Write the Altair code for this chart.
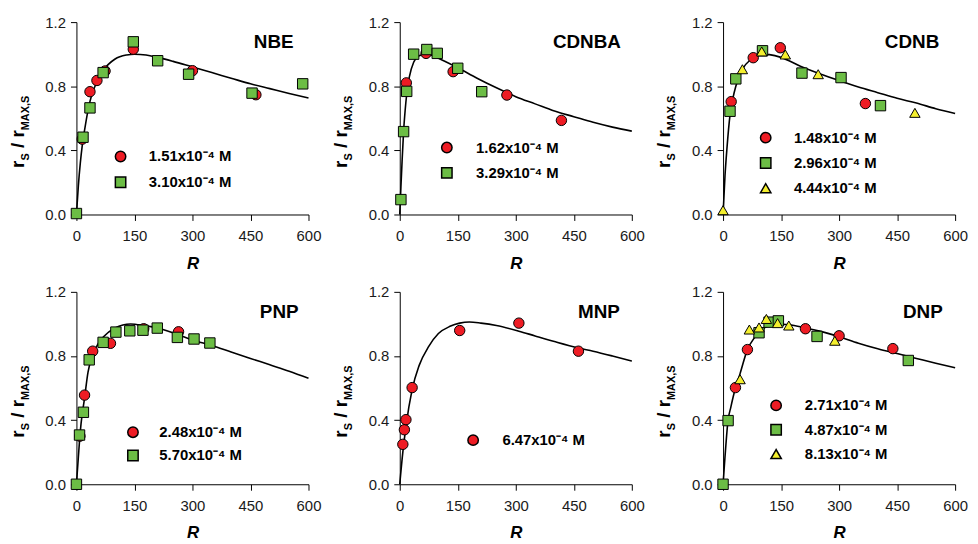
import altair as alt
import pandas as pd

FONT = "Liberation Sans"

# ---------------- data ----------------
PANELS = ["NBE", "CDNBA", "CDNB", "PNP", "MNP", "DNP"]

# fitted curves (R, rS/rMAX,S)
NBE_CURVE_R = [0, 5, 10, 15, 20, 30, 40, 50, 70, 100, 130, 150, 180, 210, 250, 300, 350, 400, 450, 500, 550, 600]
NBE_CURVE_Y = [0, 0.18, 0.32, 0.43, 0.51, 0.65, 0.75, 0.81, 0.90, 0.97, 0.995, 1.0, 0.995, 0.98, 0.955, 0.92, 0.885, 0.85, 0.815, 0.785, 0.755, 0.727]
CDNBA_CURVE_R = [0, 3, 6, 10, 14, 18, 25, 36, 50, 65, 80, 100, 150, 200, 250, 300, 350, 400, 450, 500, 550, 600]
CDNBA_CURVE_Y = [0, 0.17, 0.33, 0.52, 0.65, 0.75, 0.86, 0.95, 0.99, 1.0, 0.995, 0.975, 0.915, 0.85, 0.79, 0.735, 0.69, 0.645, 0.61, 0.575, 0.545, 0.52]
CDNB_CURVE_R = [0, 5, 10, 18, 25, 33, 50, 73, 100, 120, 150, 200, 250, 300, 350, 400, 450, 500, 550, 600]
CDNB_CURVE_Y = [0, 0.24, 0.41, 0.62, 0.72, 0.80, 0.905, 0.97, 1.0, 0.997, 0.98, 0.925, 0.878, 0.835, 0.795, 0.76, 0.725, 0.695, 0.66, 0.63]
PNP_CURVE_R = [0, 5, 10, 15, 20, 30, 40, 50, 70, 100, 140, 175, 210, 260, 300, 350, 400, 450, 500, 550, 600]
PNP_CURVE_Y = [0, 0.17, 0.33, 0.44, 0.52, 0.70, 0.79, 0.85, 0.92, 0.975, 1.0, 0.99, 0.975, 0.935, 0.90, 0.865, 0.825, 0.785, 0.745, 0.705, 0.661]
MNP_CURVE_R = [0, 8, 16, 32, 50, 75, 100, 130, 155, 180, 210, 250, 308, 350, 400, 462, 500, 550, 600]
MNP_CURVE_Y = [0, 0.2, 0.36, 0.59, 0.74, 0.86, 0.94, 0.985, 1.005, 1.012, 1.005, 0.99, 0.955, 0.925, 0.89, 0.85, 0.83, 0.80, 0.768]
DNP_CURVE_R = [0, 5, 13, 20, 32, 44, 63, 80, 93, 110, 140, 170, 213, 250, 300, 350, 400, 450, 500, 550, 600]
DNP_CURVE_Y = [0, 0.17, 0.40, 0.48, 0.60, 0.69, 0.84, 0.91, 0.945, 0.98, 1.0, 0.995, 0.975, 0.955, 0.92, 0.88, 0.845, 0.815, 0.785, 0.755, 0.727]

# measured points
NBE_LABELS = ["1.51x10⁻⁴ M", "3.10x10⁻⁴ M"]
NBE_R = [[15, 35, 53, 74, 147, 300, 464], [0, 17, 35, 69, 147, 210, 290, 454, 585]]
NBE_Y = [[0.47, 0.766, 0.836, 0.895, 1.031, 0.897, 0.747], [0.006, 0.482, 0.665, 0.885, 1.077, 0.959, 0.875, 0.757, 0.815]]

CDNBA_LABELS = ["1.62x10⁻⁴ M", "3.29x10⁻⁴ M"]
CDNBA_R = [[17, 68, 138, 277, 418], [3, 10, 18, 36, 70, 97, 150, 212]]
CDNBA_Y = [[0.821, 1.005, 0.891, 0.745, 0.587], [0.093, 0.517, 0.768, 1.0, 1.029, 1.005, 0.912, 0.766]]

CDNB_LABELS = ["1.48x10⁻⁴ M", "2.96x10⁻⁴ M", "4.44x10⁻⁴ M"]
CDNB_R = [[21, 78, 148, 368], [18, 33, 102, 204, 305, 407], [0, 50, 100, 161, 246, 496]]
CDNB_Y = [[0.704, 0.978, 1.04, 0.692], [0.644, 0.846, 1.021, 0.882, 0.854, 0.679], [0.027, 0.906, 1.017, 0.998, 0.875, 0.634]]

PNP_LABELS = ["2.48x10⁻⁴ M", "5.70x10⁻⁴ M"]
PNP_R = [[9, 21, 42, 88, 174, 264], [0, 8, 18, 33, 69, 102, 138, 172, 209, 261, 304, 345]]
PNP_Y = [[0.30, 0.556, 0.83, 0.879, 0.970, 0.951], [0, 0.307, 0.449, 0.776, 0.885, 0.949, 0.957, 0.961, 0.974, 0.916, 0.906, 0.881]]

MNP_LABELS = ["6.47x10⁻⁴ M"]
MNP_R = [[8, 12, 16, 32, 155, 308, 462]]
MNP_Y = [[0.249, 0.34, 0.403, 0.603, 0.959, 1.005, 0.83]]

DNP_LABELS = ["2.71x10⁻⁴ M", "4.87x10⁻⁴ M", "8.13x10⁻⁴ M"]
DNP_R = [[32, 63, 213, 300, 439], [0, 13, 93, 119, 143, 243, 479], [44, 68, 93, 112, 141, 170, 289]]
DNP_Y = [[0.603, 0.84, 0.970, 0.926, 0.846], [0, 0.397, 0.945, 1.011, 1.019, 0.922, 0.772], [0.655, 0.965, 0.978, 1.031, 1.005, 0.99, 0.895]]

X_TICKS = [0, 150, 300, 450, 600]
Y_TICKS = [0.0, 0.4, 0.8, 1.2]

# ---------------- styling / layout ----------------
FILLS = ["#ee1c24", "#6cbd45", "#f4ef2e"]
SHAPES = ["circle", "square", "triangle-up"]
W, H = 234, 194

# legend placement per panel: legendX, legendY, rowPadding, labelOffset
LEGEND_POS = {
    "NBE": (37, 128, 9, 21),
    "CDNBA": (40, 119, 8.5, 22),
    "CDNB": (35.5, 109, 8.5, 21),
    "PNP": (49.5, 134, 6.5, 19),
    "MNP": (66.5, 142, 8, 22),
    "DNP": (46, 107, 7.5, 21.5),
}
NAME_POS = {"NBE": 219, "CDNBA": 223, "CDNB": 218, "PNP": 224, "MNP": 222, "DNP": 221.5}

CURVES = {
    "NBE": (NBE_CURVE_R, NBE_CURVE_Y), "CDNBA": (CDNBA_CURVE_R, CDNBA_CURVE_Y),
    "CDNB": (CDNB_CURVE_R, CDNB_CURVE_Y), "PNP": (PNP_CURVE_R, PNP_CURVE_Y),
    "MNP": (MNP_CURVE_R, MNP_CURVE_Y), "DNP": (DNP_CURVE_R, DNP_CURVE_Y),
}
SERIES = {
    "NBE": (NBE_LABELS, NBE_R, NBE_Y), "CDNBA": (CDNBA_LABELS, CDNBA_R, CDNBA_Y),
    "CDNB": (CDNB_LABELS, CDNB_R, CDNB_Y), "PNP": (PNP_LABELS, PNP_R, PNP_Y),
    "MNP": (MNP_LABELS, MNP_R, MNP_Y), "DNP": (DNP_LABELS, DNP_R, DNP_Y),
}

# y-axis title pieces: (text, y position along axis, is_subscript)
YTITLE = [("r", 147.0, False), ("S", 139.6, True), ("/ r", 127.0, False), ("MAX,S", 109.0, True)]
YT_X_MAIN, YT_X_SUB = -53, -48


def make_panel(name):
    cr, cy = CURVES[name]
    labels, rs, ys = SERIES[name]
    rows = []
    for lab, rr, yy in zip(labels, rs, ys):
        for r, v in zip(rr, yy):
            rows.append({"R": r, "v": v, "series": lab})
    pts = pd.DataFrame(rows)
    n = len(labels)

    x_enc = alt.X("R:Q", scale=alt.Scale(domain=[0, 600], nice=False, zero=False),
                  axis=alt.Axis(values=X_TICKS, title="R", labelFlush=False))
    y_enc = alt.Y("v:Q", scale=alt.Scale(domain=[0, 1.2], nice=False),
                  axis=alt.Axis(values=Y_TICKS, format=".1f", title=None, labelFlush=False))

    line = alt.Chart(pd.DataFrame({"R": cr, "v": cy})).mark_line(
        color="black", strokeWidth=1.6, interpolate="monotone").encode(x=x_enc, y=y_enc)

    lx, ly, rp, lo = LEGEND_POS[name]
    leg = alt.Legend(title=None, orient="none", legendX=lx, legendY=ly, direction="vertical",
                     labelFont=FONT, labelFontSize=15, labelFontWeight="bold", labelColor="black",
                     labelOffset=lo, rowPadding=rp, symbolSize=110,
                     padding=0, labelLimit=300)
    points = alt.Chart(pts).mark_point(filled=True, size=110, stroke="black", strokeWidth=1, opacity=1).encode(
        x="R:Q", y="v:Q",
        fill=alt.Fill("series:N", scale=alt.Scale(domain=labels, range=FILLS[:n]), legend=leg),
        shape=alt.Shape("series:N", scale=alt.Scale(domain=labels, range=SHAPES[:n]), legend=leg),
    )

    title = alt.Chart(pd.DataFrame({"t": [name]})).mark_text(
        font=FONT, fontSize=19, fontWeight="bold", align="right", baseline="alphabetic", color="black"
    ).encode(text="t:N", x=alt.value(NAME_POS[name]), y=alt.value(26))

    layers = [line, points, title]
    for txt, ypos, sub in YTITLE:
        layers.append(alt.Chart(pd.DataFrame({"t": [txt]})).mark_text(
            font=FONT, fontSize=11 if sub else 19, fontWeight="bold", angle=270,
            align="left", baseline="alphabetic", color="black"
        ).encode(text="t:N", x=alt.value(YT_X_SUB if sub else YT_X_MAIN), y=alt.value(ypos)))

    return alt.layer(*layers).properties(width=W, height=H)


chart = alt.concat(*[make_panel(p) for p in PANELS], columns=3,
                   spacing={"row": 78, "column": 92}, bounds="flush")
chart = chart.resolve_scale(fill="independent", shape="independent").resolve_legend(
    fill="independent", shape="independent")
chart = chart.properties(
    autosize=alt.AutoSizeParams(type="none"),
    padding={"left": 69, "top": 12, "right": 901, "bottom": 522},
).configure_view(stroke=None).configure_axis(
    domainColor="black", domainWidth=1, tickColor="black", tickWidth=1, tickSize=6,
    labelFont=FONT, labelFontSize=15, labelColor="#1a1a1a", grid=False,
    titleFont=FONT, titleFontSize=17, titleFontWeight="bold", titleFontStyle="italic", titleColor="black",
).configure_axisX(labelPadding=8, titlePadding=12).configure_axisY(labelPadding=5)

chart.save("out.html", embed_options={"renderer": "svg", "actions": False})
